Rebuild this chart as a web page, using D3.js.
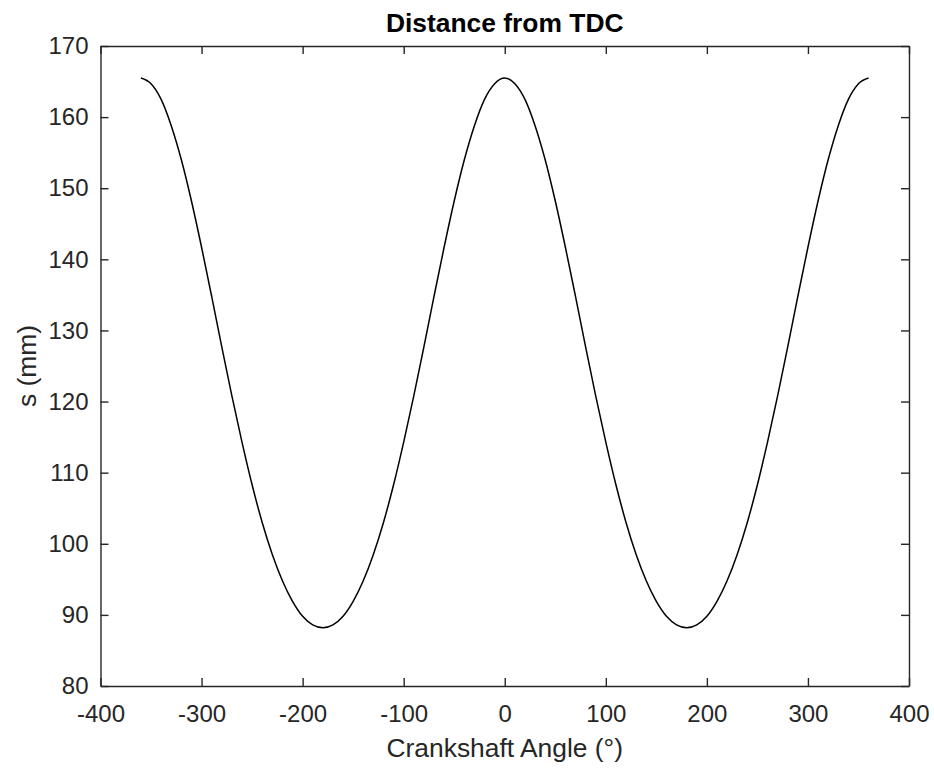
<!DOCTYPE html>
<html>
<head>
<meta charset="utf-8">
<script src="https://cdn.jsdelivr.net/npm/d3@7"></script>
<style>
  body { margin: 0; background: #fff; }
  svg text { font-family: "Liberation Sans", Arial, Helvetica, sans-serif; fill: #262626; }
</style>
</head>
<body>
<div id="chart"></div>
<script>
// Crank angle (degrees) and piston distance from TDC (mm)
var angles = [
  -360, -350, -340, -330, -320, -310, -300, -290, -280, -270, -260, -250, -240,
  -230, -220, -210, -200, -190, -180, -170, -160, -150, -140, -130, -120, -110,
  -100, -90, -80, -70, -60, -50, -40, -30, -20, -10, 0,
  10, 20, 30, 40, 50, 60, 70, 80, 90, 100, 110, 120, 130, 140, 150, 160, 170,
  180, 190, 200, 210, 220, 230, 240, 250, 260, 270, 280, 290, 300, 310, 320,
  330, 340, 350, 360
];
var distance = [
  165.5, 164.7, 162.5, 158.8, 154.0, 148.2, 141.7, 134.8, 127.7, 120.8, 114.3, 108.3, 103.0,
  98.5, 94.8, 91.9, 89.8, 88.6, 88.2, 88.6, 89.8, 91.9, 94.8, 98.5, 103.0, 108.3,
  114.3, 120.8, 127.7, 134.8, 141.7, 148.2, 154.0, 158.8, 162.5, 164.7, 165.5,
  164.7, 162.5, 158.8, 154.0, 148.2, 141.7, 134.8, 127.7, 120.8, 114.3, 108.3, 103.0, 98.5, 94.8, 91.9, 89.8, 88.6,
  88.2, 88.6, 89.8, 91.9, 94.8, 98.5, 103.0, 108.3, 114.3, 120.8, 127.7, 134.8, 141.7, 148.2, 154.0,
  158.8, 162.5, 164.7, 165.5
];
var xTicks = [-400, -300, -200, -100, 0, 100, 200, 300, 400];
var yTicks = [80, 90, 100, 110, 120, 130, 140, 150, 160, 170];

var W = 934, H = 770;
var margin = { top: 46, left: 100.5, right: 25, bottom: 84 };
var width = W - margin.left - margin.right,
    height = H - margin.top - margin.bottom;

var svg = d3.select("#chart").append("svg")
    .attr("width", W)
    .attr("height", H);

var g = svg.append("g")
    .attr("transform", "translate(" + margin.left + "," + margin.top + ")");

var x = d3.scaleLinear().domain([-400, 400]).range([0, width]);
var y = d3.scaleLinear().domain([80, 170]).range([height, 0]);

var data = angles.map(function(a, i) { return { a: a, s: distance[i] }; });

// curve
var line = d3.line()
    .x(function(d) { return x(d.a); })
    .y(function(d) { return y(d.s); })
    .curve(d3.curveMonotoneX);

g.append("path")
    .datum(data)
    .attr("fill", "none")
    .attr("stroke", "#000")
    .attr("stroke-width", 1.5)
    .attr("d", line);

// axes (ticks pointing inward, box on)
function styleAxis(sel) {
  sel.select(".domain").attr("stroke", "#262626").attr("stroke-width", 1.4);
  sel.selectAll(".tick line").attr("stroke", "#262626").attr("stroke-width", 1.4);
}

// plain hyphen for negatives, like the original
var fmt = function(d) { return String(d); };

var xBottom = g.append("g")
    .attr("transform", "translate(0," + height + ")")
    .call(d3.axisBottom(x).tickValues(xTicks).tickSize(-8).tickSizeOuter(0).tickPadding(19).tickFormat(fmt));
xBottom.selectAll("text").attr("font-size", 24).attr("dy", "0.71em");
styleAxis(xBottom);

var xTop = g.append("g")
    .call(d3.axisTop(x).tickValues(xTicks).tickSize(-8).tickSizeOuter(0).tickFormat(""));
styleAxis(xTop);

var yLeft = g.append("g")
    .call(d3.axisLeft(y).tickValues(yTicks).tickSize(-8).tickSizeOuter(0).tickPadding(12).tickFormat(fmt));
yLeft.selectAll("text").attr("font-size", 24);
styleAxis(yLeft);

var yRight = g.append("g")
    .attr("transform", "translate(" + width + ",0)")
    .call(d3.axisRight(y).tickValues(yTicks).tickSize(-8).tickSizeOuter(0).tickFormat(""));
styleAxis(yRight);

// title and labels
svg.append("text")
    .attr("x", margin.left + width / 2)
    .attr("y", 32)
    .attr("text-anchor", "middle")
    .attr("font-size", 26.4)
    .attr("font-weight", "bold")
    .style("fill", "#000")
    .text("Distance from TDC");

svg.append("text")
    .attr("x", margin.left + width / 2)
    .attr("y", 757)
    .attr("text-anchor", "middle")
    .attr("font-size", 26.4)
    .text("Crankshaft Angle (\u00b0)");

svg.append("text")
    .attr("transform", "translate(36," + (margin.top + height / 2) + ") rotate(-90)")
    .attr("text-anchor", "middle")
    .attr("font-size", 26.4)
    .text("s (mm)");
</script>
</body>
</html>
